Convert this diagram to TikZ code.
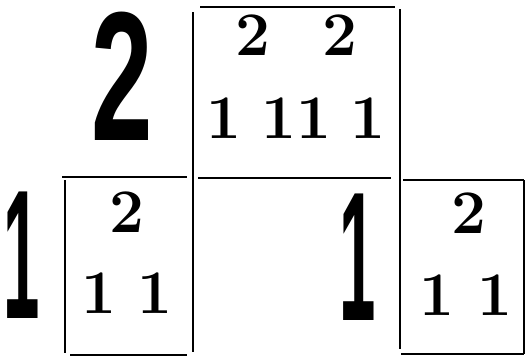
\documentclass[tikz,border=0pt]{standalone}
\usepackage{fontspec}
\newfontfamily\bigsans{Liberation Sans}
\begin{document}
\begin{tikzpicture}[x=1pt,y=-1pt,
  rule/.style={line width=1.8pt,black},
  small/.style={inner sep=0pt,anchor=base,font=\bfseries\fontsize{62}{62}\selectfont},
  big/.style={inner sep=0pt,anchor=base,font=\bigsans\bfseries\fontsize{184}{184}\selectfont}]
\useasboundingbox (0,0) rectangle (526,359);
% rules
\draw[rule] (200,7) -- (395,7);
\draw[rule] (193,12) -- (193,352);
\draw[rule] (400,9) -- (400,349);
\draw[rule] (62,177) -- (187,177);
\draw[rule] (198,178) -- (391,178);
\draw[rule] (403,180) -- (524,180);
\draw[rule] (65,180) -- (65,353);
\draw[rule] (70,355) -- (187,355);
\draw[rule] (524,180) -- (524,354);
\draw[rule] (401,354) -- (524,354);
% big digits
\node[big] (bigtwo) at (122,140) {\scalebox{0.6}[1]{2}};
\node[big] (bigoneL) at (22,318) {\scalebox{0.355}[1]{1}};
\node[big] (bigoneM) at (358,320) {\scalebox{0.355}[1]{1}};
% top box
\node[small] (t2a) at (253,55) {2};
\node[small] (t2b) at (340,55) {2};
\node[small] (t1a) at (224,138) {1};
\node[small] (t11) at (296,138) {11};
\node[small] (t1b) at (368,138) {1};
% left box
\node[small] (l2) at (127,232) {2};
\node[small] (l1a) at (99,313) {1};
\node[small] (l1b) at (155,313) {1};
% right box
\node[small] (r2) at (469,233) {2};
\node[small] (r1a) at (437,315) {1};
\node[small] (r1b) at (495,315) {1};
\end{tikzpicture}
\end{document}
